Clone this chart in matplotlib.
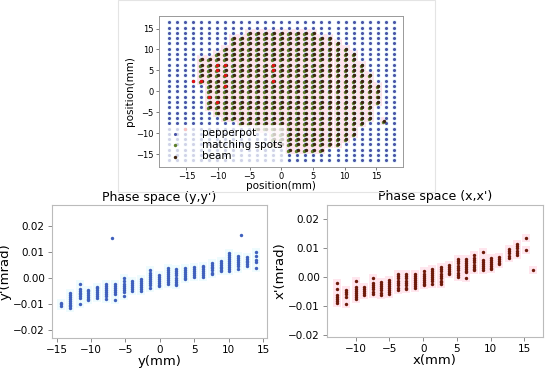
import numpy as np
import matplotlib
matplotlib.use("Agg")
import matplotlib.pyplot as plt
from matplotlib.patches import Rectangle

# pepperpot hole grid (mm)
HOLE_X = [-17.78, -16.51, -15.24, -13.97, -12.70, -11.43, -10.16, -8.89, -7.62, -6.35,
          -5.08, -3.81, -2.54, -1.27, 0.0, 1.27, 2.54, 3.81, 5.08, 6.35, 7.62, 8.89,
          10.16, 11.43, 12.70, 13.97, 15.24, 16.51, 17.78]
HOLE_Y = [16.51, 15.24, 13.97, 12.70, 11.43, 10.16, 8.89, 7.62, 6.35, 5.08, 3.81, 2.54,
          1.27, 0.0, -1.27, -2.54, -3.81, -5.08, -6.35, -7.62, -8.89, -10.16, -11.43,
          -12.70, -13.97, -15.24, -16.51]

# beam-covered holes: for rows 2..24 of HOLE_Y, first and last column of HOLE_X
BEAM_ROWS = list(range(2, 25))
BEAM_FIRST = [10, 8, 8, 7, 6, 4, 4, 4, 4, 4, 5, 5, 5, 5, 5, 6, 7, 9, 11, 13, 13, 13, 15]
BEAM_LAST = [18, 20, 21, 22, 23, 23, 24, 24, 25, 25, 26, 26, 26, 26, 25, 25, 25, 24, 23,
             23, 22, 21, 19]
EXTRA_X = [16.2]
EXTRA_Y = [-7.1]
RED_X = [-10.16, -8.89, -10.16, -8.89, -8.89, -12.70, -1.27, -1.27, -1.27, -11.43, -10.16,
         -13.97, -15.24]
RED_Y = [6.35, 6.35, 5.08, 3.81, 1.27, 2.54, 6.35, 5.08, 2.54, -1.27, -2.54, 2.54, -8.89]

# phase space (y, y')
YY_POS = [-14.3, -13.0, -11.6, -10.4, -9.1, -7.8, -6.5, -5.2, -4.0, -2.7, -1.4, -0.1, 1.2,
          2.4, 3.7, 5.0, 6.3, 7.6, 8.8, 10.1, 11.4, 12.7, 13.9]
YY_VALS = [
    [-0.0095, -0.0101, -0.0108],
    [-0.0060, -0.0066, -0.0073, -0.0080, -0.0088, -0.0095, -0.0103, -0.0110, -0.0117],
    [-0.0023, -0.0044, -0.0050, -0.0057, -0.0064, -0.0071, -0.0078, -0.0102],
    [-0.0045, -0.0051, -0.0058, -0.0065, -0.0072, -0.0080, -0.0087],
    [-0.0034, -0.0040, -0.0047, -0.0054, -0.0061, -0.0068, -0.0076],
    [-0.0023, -0.0030, -0.0038, -0.0046, -0.0054, -0.0062, -0.0070, -0.0080],
    [-0.0025, -0.0032, -0.0040, -0.0048, -0.0056, -0.0064, -0.0087],
    [-0.0002, -0.0012, -0.0022, -0.0030, -0.0038, -0.0046, -0.0055, -0.0068],
    [-0.0013, -0.0020, -0.0027, -0.0034, -0.0042, -0.0051],
    [-0.0006, -0.0013, -0.0020, -0.0028, -0.0036, -0.0043, -0.0050],
    [0.0028, 0.0020, 0.0012, 0.0004, -0.0004, -0.0012, -0.0020, -0.0029, -0.0038],
    [0.0009, 0.0002, -0.0005, -0.0012, -0.0019, -0.0026, -0.0032],
    [0.0038, 0.0030, 0.0022, 0.0014, 0.0006, -0.0002, -0.0010, -0.0018, -0.0025],
    [0.0032, 0.0025, 0.0017, 0.0009, 0.0001, -0.0007, -0.0015, -0.0022, -0.0029],
    [0.0036, 0.0029, 0.0022, 0.0015, 0.0008, 0.0001, -0.0006],
    [0.0041, 0.0034, 0.0027, 0.0020, 0.0012, 0.0004],
    [0.0047, 0.0040, 0.0033, 0.0025, 0.0018, 0.0011, 0.0004],
    [0.0057, 0.0050, 0.0043, 0.0036, 0.0028, 0.0020, 0.0013],
    [0.0064, 0.0057, 0.0050, 0.0043, 0.0036, 0.0030, 0.0025],
    [0.0096, 0.0088, 0.0080, 0.0072, 0.0064, 0.0056, 0.0048, 0.0040, 0.0032, 0.0025],
    [0.0083, 0.0076, 0.0068, 0.0060, 0.0052, 0.0044, 0.0034],
    [0.0080, 0.0073, 0.0066, 0.0059, 0.0052, 0.0045],
    [0.0099, 0.0083, 0.0067, 0.0060, 0.0036],
]
YY_OUT_X = [-7.0, 11.8]
YY_OUT_Y = [0.0154, 0.0163]

# phase space (x, x')
XX_POS = [-12.7, -11.4, -10.0, -8.8, -7.5, -6.3, -5.0, -3.7, -2.5, -1.2, 0.1, 1.3, 2.6,
          3.8, 5.1, 6.3, 7.5, 8.9, 10.1, 11.3, 12.7, 13.9, 15.3, 16.3]
XX_VALS = [
    [-0.0019, -0.0042, -0.0063, -0.0069, -0.0075, -0.0082, -0.0088],
    [-0.0045, -0.0052, -0.0060, -0.0068, -0.0091],
    [-0.0014, -0.0034, -0.0041, -0.0048, -0.0055, -0.0062, -0.0068, -0.0074],
    [-0.0034, -0.0041, -0.0048, -0.0055, -0.0062],
    [-0.0002, -0.0020, -0.0027, -0.0034, -0.0042, -0.0050, -0.0057],
    [-0.0017, -0.0024, -0.0031, -0.0038, -0.0046, -0.0054, -0.0062],
    [-0.0011, -0.0018, -0.0025, -0.0032, -0.0039, -0.0046, -0.0053, -0.0060],
    [0.0011, 0.0004, -0.0004, -0.0012, -0.0020, -0.0028, -0.0036, -0.0045],
    [0.0011, 0.0003, -0.0005, -0.0013, -0.0021, -0.0029, -0.0036, -0.0040],
    [0.0011, 0.0004, -0.0004, -0.0011, -0.0018, -0.0025, -0.0032, -0.0037],
    [0.0020, 0.0012, 0.0005, -0.0002, -0.0009, -0.0016, -0.0023, -0.0028],
    [0.0028, 0.0020, 0.0013, 0.0006, -0.0001, -0.0008, -0.0015, -0.0023],
    [0.0036, 0.0028, 0.0020, 0.0012, 0.0004, -0.0004, -0.0012, -0.0018, -0.0023],
    [0.0042, 0.0035, 0.0028, 0.0021, 0.0015, 0.0011],
    [0.0063, 0.0055, 0.0047, 0.0039, 0.0031, 0.0023, 0.0015, 0.0008, 0.0000],
    [0.0063, 0.0056, 0.0049, 0.0042, 0.0035, 0.0028, 0.0021, 0.0017, -0.0003],
    [0.0074, 0.0066, 0.0058, 0.0050, 0.0042, 0.0034, 0.0027, 0.0023],
    [0.0085, 0.0060, 0.0053, 0.0046, 0.0039, 0.0031, 0.0023],
    [0.0066, 0.0059, 0.0052, 0.0045, 0.0038, 0.0032, 0.0028],
    [0.0068, 0.0061, 0.0054, 0.0048, 0.0045],
    [0.0097, 0.0089, 0.0081, 0.0073, 0.0065],
    [0.0114, 0.0106, 0.0098, 0.0090, 0.0083, 0.0076],
    [0.0133, 0.0094],
    [0.0025],
]


def flatten(pos, vals):
    xs = [p for p, v in zip(pos, vals) for _ in v]
    ys = [y for v in vals for y in v]
    return np.array(xs), np.array(ys)


gx, gy = np.meshgrid(HOLE_X, HOLE_Y)
bx, by = [], []
for j, a, b in zip(BEAM_ROWS, BEAM_FIRST, BEAM_LAST):
    for i in range(a, b + 1):
        bx.append(HOLE_X[i])
        by.append(HOLE_Y[j])
bx = np.array(bx + EXTRA_X)
by = np.array(by + EXTRA_Y)

fig = plt.figure(figsize=(5.5, 3.7), dpi=100)
fig.patches.append(Rectangle((118 / 550, 1 - 192 / 370), 317 / 550, 192 / 370,
                             transform=fig.transFigure, fill=False,
                             ec="#e4e4e4", lw=0.8))

# top: pepperpot image
ax = fig.add_axes([0.2896, 0.5495, 0.4437, 0.4073])
ax.scatter(bx, by, s=34, marker="s", color="#ffe3ec", lw=0, zorder=1)
ax.scatter(gx.ravel(), gy.ravel(), s=12, color="#e6f8fb", lw=0, zorder=1.5)
ax.scatter(gx.ravel(), gy.ravel(), s=5, color="#4a55a8", lw=0, zorder=2, label="pepperpot")
ax.scatter(bx - 0.15, by - 0.2, s=6, color="#5c7f2a", lw=0, zorder=3, label="matching spots")
ax.scatter(bx + 0.1, by, s=6, color="#3e2410", lw=0, zorder=4, label="beam")
ax.scatter(RED_X, RED_Y, s=6, color="#e01010", lw=0, zorder=5)
ax.set_xlim(-19.3, 19.3)
ax.set_ylim(-18, 18)
ax.set_xticks([-15, -10, -5, 0, 5, 10, 15])
ax.set_yticks([-15, -10, -5, 0, 5, 10, 15])
ax.tick_params(labelsize=6, length=2.5, width=0.6, color="#666666", pad=1.5)
ax.set_xlabel("position(mm)", fontsize=7.5, labelpad=0)
ax.set_ylabel("position(mm)", fontsize=7.5, labelpad=1)
for s in ax.spines.values():
    s.set_color("#999999")
    s.set_linewidth(0.7)
ax.legend(loc="lower left", fontsize=7.5, frameon=True, framealpha=0.75, edgecolor="none",
          handletextpad=1.6, borderpad=0.3, labelspacing=0.15, markerscale=1.0,
          borderaxespad=0.2)

# bottom left: (y, y')
yx, yv = flatten(YY_POS, YY_VALS)
ax1 = fig.add_axes([0.094, 0.0857, 0.3909, 0.3602])
ax1.scatter(yx, yv, s=40, marker="s", color="#eefbfd", lw=0, zorder=1)
ax1.scatter(yx, yv, s=6, color="#3f60bd", lw=0, zorder=2)
ax1.scatter(YY_OUT_X, YY_OUT_Y, s=6, color="#3f60bd", lw=0, zorder=2)
ax1.set_xlim(-15.7, 15.5)
ax1.set_ylim(-0.0232, 0.0279)
ax1.set_xticks([-15, -10, -5, 0, 5, 10, 15])
ax1.set_yticks([-0.02, -0.01, 0.0, 0.01, 0.02])
ax1.set_title("Phase space (y,y')", fontsize=9, pad=3)
ax1.set_xlabel("y(mm)", fontsize=9.5, labelpad=0)
ax1.set_ylabel("y'(mrad)", fontsize=9.5, labelpad=1)

# bottom right: (x, x')
xx, xv = flatten(XX_POS, XX_VALS)
ax2 = fig.add_axes([0.594, 0.0892, 0.3938, 0.358])
ax2.scatter(xx, xv, s=40, marker="s", color="#ffe6ee", lw=0, zorder=1)
ax2.scatter(xx, xv, s=6, color="#6e1a0a", lw=0, zorder=2)
ax2.set_xlim(-14.3, 17.8)
ax2.set_ylim(-0.0206, 0.0249)
ax2.set_xticks([-10, -5, 0, 5, 10, 15])
ax2.set_yticks([-0.02, -0.01, 0.0, 0.01, 0.02])
ax2.set_title("Phase space (x,x')", fontsize=9, pad=3)
ax2.set_xlabel("x(mm)", fontsize=9.5, labelpad=0)
ax2.set_ylabel("x'(mrad)", fontsize=9.5, labelpad=1)

for a in (ax1, ax2):
    a.tick_params(labelsize=7.5, length=3, width=0.6, color="#777777", pad=2)
    for s in a.spines.values():
        s.set_color("#bbbbbb")
        s.set_linewidth(0.8)

fig.savefig("out.png", dpi=100)
